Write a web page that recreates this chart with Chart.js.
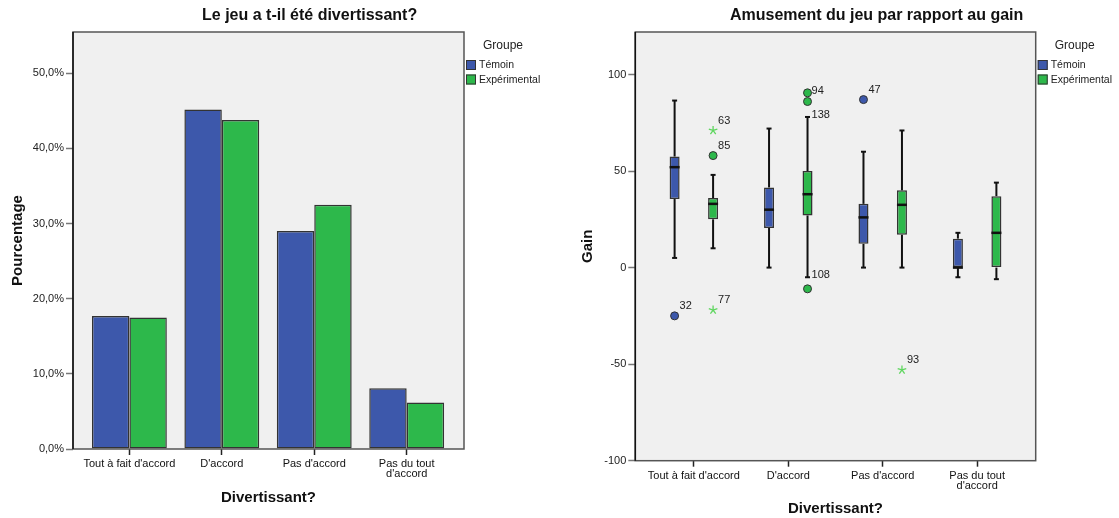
<!DOCTYPE html>
<html>
<head>
<meta charset="utf-8">
<script src="https://cdn.jsdelivr.net/npm/chart.js@4"></script>
<style>
  body { margin: 0; background: #fff; }
  #wrap { position: relative; width: 1119px; height: 518px; }
  canvas { position: absolute; top: 0; }
</style>
</head>
<body>
<div id="wrap">
  <canvas id="barChart" width="560" height="518" style="left:0"></canvas>
  <canvas id="boxChart" width="559" height="518" style="left:560px"></canvas>
</div>
<script>
// catégories / groupes
const categories = ["Tout à fait d'accord", "D'accord", "Pas d'accord", ["Pas du tout", "d'accord"]];
const groups = ['Témoin', 'Expérimental'];
const groupColors = ['#3d58ab', '#2db84b'];

// graphique de gauche : pourcentages
const pctTemoin = [17.7, 45.2, 29.0, 8.1];
const pctExperimental = [17.5, 43.8, 32.5, 6.2];
const pctTicks = [0, 10, 20, 30, 40, 50];

// graphique de droite : boîtes à moustaches (gain)
const lowTemoin  = [5, 0, 0, -5];
const q1Temoin   = [35.5, 20.5, 12.3, 0];
const medTemoin  = [52, 30, 26, 0];
const q3Temoin   = [57.5, 41.5, 33, 15];
const highTemoin = [86.5, 72, 60, 18];

const lowExp  = [10, -5, 0, -6];
const q1Exp   = [25, 27, 17, 0];
const medExp  = [33, 38, 32.5, 18];
const q3Exp   = [36, 50, 40, 37];
const highExp = [48, 78, 71, 44];

const gainTicks = [-100, -50, 0, 50, 100];

// valeurs atypiques : [groupe, catégorie, valeur, étiquette, type]
const outliers = [
  [0, 0, -25, '32', 'circle'],
  [0, 2, 87, '47', 'circle'],
  [1, 0, 58, '85', 'circle'],
  [1, 0, 71, '63', 'star'],
  [1, 0, -22, '77', 'star'],
  [1, 1, 90.5, '94', 'circle'],
  [1, 1, 86, '', 'circle'],
  [1, 1, -11, '', 'circle'],
  [1, 2, -53, '93', 'star']
];
// étiquettes posées au bout des moustaches
const whiskerLabels = [[1, 1, 78, '138'], [1, 1, -5, '108']];
const sideLabels = ['94', '138', '108'];

const boxStats = [
  { low: lowTemoin, q1: q1Temoin, med: medTemoin, q3: q3Temoin, high: highTemoin },
  { low: lowExp, q1: q1Exp, med: medExp, q3: q3Exp, high: highExp }
];

const FONT = '"Liberation Sans", Arial, sans-serif';

// fond gris, cadre, titre et légende façon SPSS
const spssPlugin = {
  id: 'spss',
  beforeDraw(chart) {
    const { ctx, chartArea: a } = chart;
    ctx.save();
    ctx.fillStyle = '#f0f0f0';
    ctx.fillRect(a.left, a.top, a.right - a.left, a.bottom - a.top);
    ctx.restore();
  },
  afterDraw(chart, args, opts) {
    const { ctx, chartArea: a } = chart;
    ctx.save();
    ctx.strokeStyle = '#555';
    ctx.lineWidth = 1.5;
    ctx.strokeRect(a.left, a.top, a.right - a.left, a.bottom - a.top);
    ctx.strokeStyle = '#111';
    ctx.beginPath();
    ctx.moveTo(a.left, a.top);
    ctx.lineTo(a.left, a.bottom);
    ctx.stroke();

    // légende
    const lx = a.right + 2;
    ctx.textBaseline = 'middle';
    ctx.textAlign = 'center';
    ctx.font = '12px ' + FONT;
    ctx.fillStyle = '#222';
    ctx.fillText('Groupe', lx + 37, 46);
    ctx.textAlign = 'left';
    ctx.font = '10.5px ' + FONT;
    let legendRight = lx;
    groups.forEach((g, i) => {
      const y = 60 + i * 14.5;
      ctx.fillStyle = groupColors[i];
      ctx.fillRect(lx, y, 10, 10);
      ctx.strokeStyle = '#333';
      ctx.lineWidth = 1;
      ctx.strokeRect(lx + 0.5, y + 0.5, 9, 9);
      ctx.fillStyle = '#222';
      ctx.fillText(g, lx + 13, y + 5.5);
      legendRight = Math.max(legendRight, lx + 13 + ctx.measureText(g).width);
    });

    // titre centré sur le graphique + légende
    ctx.fillStyle = '#111';
    ctx.font = 'bold 16px ' + FONT;
    ctx.textAlign = 'center';
    ctx.textBaseline = 'alphabetic';
    ctx.fillText(opts.title, (a.left + legendRight) / 2 + 3, 20);
    ctx.restore();
  }
};

// moustaches, médianes et valeurs atypiques
const boxPlugin = {
  id: 'boxes',
  afterDatasetsDraw(chart) {
    const { ctx } = chart;
    const ys = chart.scales.y;
    const line = (x1, y1, x2, y2) => { ctx.beginPath(); ctx.moveTo(x1, y1); ctx.lineTo(x2, y2); ctx.stroke(); };
    ctx.save();
    boxStats.forEach((s, g) => {
      chart.getDatasetMeta(g).data.forEach((bar, i) => {
        const x = bar.x, half = bar.width / 2;
        const yLow = ys.getPixelForValue(s.low[i]);
        const yHigh = ys.getPixelForValue(s.high[i]);
        ctx.strokeStyle = '#111';
        ctx.lineWidth = 2;
        line(x, ys.getPixelForValue(s.q3[i]), x, yHigh);
        line(x, ys.getPixelForValue(s.q1[i]), x, yLow);
        line(x - 2.5, yHigh, x + 2.5, yHigh);
        line(x - 2.5, yLow, x + 2.5, yLow);
        ctx.lineWidth = 2.5;
        const yMed = ys.getPixelForValue(s.med[i]);
        line(x - half, yMed, x + half, yMed);
      });
    });

    ctx.font = '11px ' + FONT;
    ctx.textAlign = 'left';
    ctx.textBaseline = 'middle';
    const label = (txt, x, y) => {
      if (!txt) return;
      ctx.fillStyle = '#222';
      if (sideLabels.includes(txt)) ctx.fillText(txt, x + 4, y - 2);
      else ctx.fillText(txt, x + 5, y - 10);
    };
    outliers.forEach(([g, i, v, txt, kind]) => {
      const x = chart.getDatasetMeta(g).data[i].x;
      const y = ys.getPixelForValue(v);
      if (kind === 'circle') {
        ctx.beginPath();
        ctx.arc(x, y, 4, 0, Math.PI * 2);
        ctx.fillStyle = groupColors[g];
        ctx.fill();
        ctx.strokeStyle = '#333';
        ctx.lineWidth = 1;
        ctx.stroke();
      } else {
        ctx.strokeStyle = '#5fd65f';
        ctx.lineWidth = 1.3;
        for (let k = 0; k < 5; k++) {
          const ang = -Math.PI / 2 + k * 2 * Math.PI / 5;
          line(x, y, x + Math.cos(ang) * 4.5, y + Math.sin(ang) * 4.5);
        }
      }
      label(txt, x, y);
    });
    whiskerLabels.forEach(([g, i, v, txt]) => {
      label(txt, chart.getDatasetMeta(g).data[i].x, ys.getPixelForValue(v));
    });
    ctx.restore();
  }
};

function xAxis(range, height, titlePad) {
  return {
    type: 'linear', min: range[0], max: range[1], offset: false,
    afterBuildTicks: s => { s.ticks = categories.map((c, i) => ({ value: i })); },
    afterFit: s => { s.height = height; },
    grid: { drawOnChartArea: false, drawTicks: true, tickLength: 6, tickColor: '#222', tickWidth: 1.5, offset: false },
    border: { display: false },
    ticks: { callback: v => categories[v], font: { family: FONT, size: 11, lineHeight: 0.92 },
             color: '#111', padding: 4, maxRotation: 0, autoSkip: false },
    title: { display: true, text: 'Divertissant?', color: '#111',
             font: { family: FONT, size: 15, weight: 'bold' }, padding: { top: 0, bottom: titlePad } }
  };
}

function yAxis(min, max, ticks, width, fmt, title, titlePad) {
  return {
    min: min, max: max,
    afterBuildTicks: s => { s.ticks = ticks.map(v => ({ value: v })); },
    afterFit: s => { s.width = width; },
    grid: { drawOnChartArea: false, drawTicks: true, tickLength: 7, tickColor: '#777', tickWidth: 1.5 },
    border: { display: false },
    ticks: { callback: fmt, font: { family: FONT, size: 11 }, color: '#222', padding: 2 },
    title: { display: true, text: title, color: '#111',
             font: { family: FONT, size: 15, weight: 'bold' }, padding: { top: titlePad, bottom: 0 } }
  };
}

// graphique à barres
new Chart(document.getElementById('barChart'), {
  type: 'bar',
  data: {
    datasets: [
      { label: groups[0], data: pctTemoin.map((v, i) => ({ x: i, y: v })), backgroundColor: groupColors[0] },
      { label: groups[1], data: pctExperimental.map((v, i) => ({ x: i, y: v })), backgroundColor: groupColors[1] }
    ]
  },
  options: {
    responsive: false,
    animation: false,
    devicePixelRatio: 1,
    layout: { padding: { top: 32, right: 96, bottom: 0, left: 0 } },
    datasets: { bar: { categoryPercentage: 0.81, barPercentage: 1, borderColor: '#333', borderWidth: 1.5, borderSkipped: false } },
    plugins: { legend: { display: false }, tooltip: { enabled: false }, spss: { title: 'Le jeu a t-il été divertissant?' } },
    scales: {
      x: xAxis([-0.61, 3.62], 69, 11),
      y: yAxis(0, 55.5, pctTicks, 73, v => v.toFixed(1).replace('.', ',') + '%', 'Pourcentage', 9)
    }
  },
  plugins: [spssPlugin]
});

// boîtes à moustaches
new Chart(document.getElementById('boxChart'), {
  type: 'bar',
  data: {
    datasets: boxStats.map((s, g) => ({
      label: groups[g],
      data: s.q1.map((v, i) => ({ x: i, y: [v, s.q3[i]] })),
      backgroundColor: groupColors[g]
    }))
  },
  options: {
    responsive: false,
    animation: false,
    devicePixelRatio: 1,
    layout: { padding: { top: 32, right: 83.3, bottom: 0, left: 0 } },
    datasets: { bar: { categoryPercentage: 0.815, barPercentage: 0.26, borderColor: '#333', borderWidth: 1.5, borderSkipped: false } },
    plugins: { legend: { display: false }, tooltip: { enabled: false }, spss: { title: 'Amusement du jeu par rapport au gain' } },
    scales: {
      x: xAxis([-0.62, 3.62], 57.3, 0),
      y: yAxis(-100, 122, gainTicks, 75.3, v => String(v), 'Gain', 19)
    }
  },
  plugins: [spssPlugin, boxPlugin]
});
</script>
</body>
</html>
